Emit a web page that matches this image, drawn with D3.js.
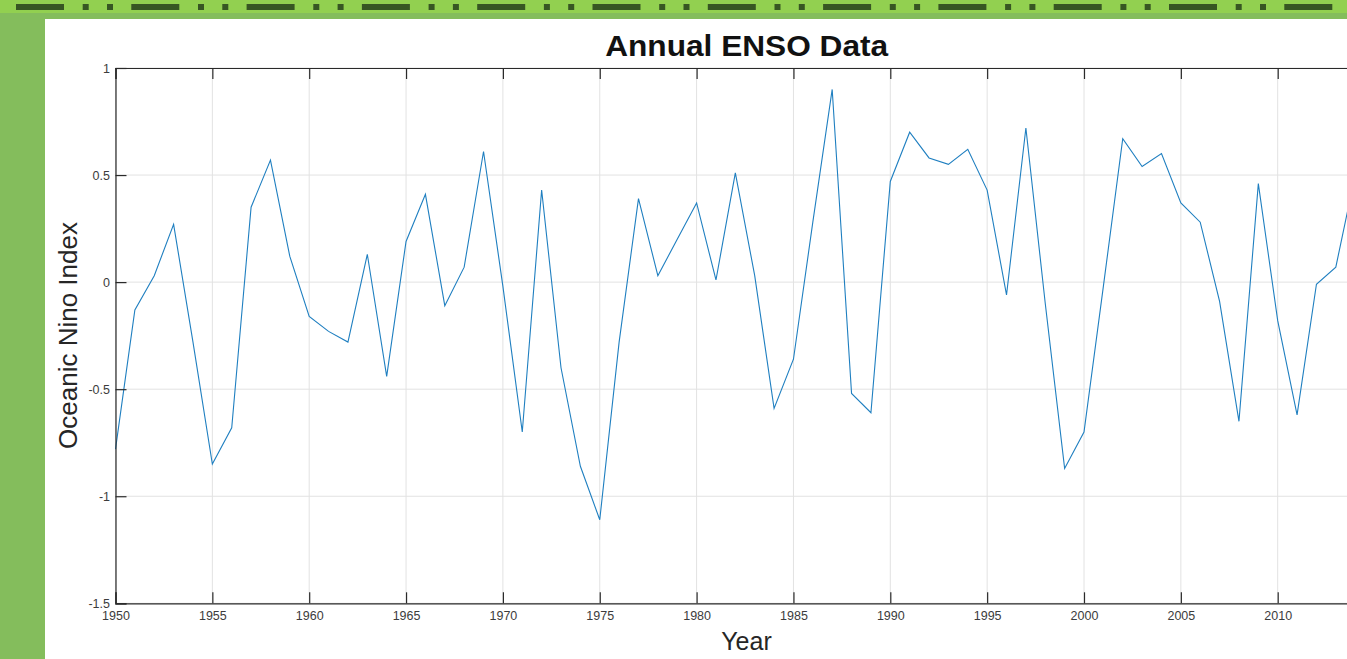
<!DOCTYPE html>
<html>
<head>
<meta charset="utf-8">
<script src="https://cdn.jsdelivr.net/npm/d3@7"></script>
<style>
  html, body { margin: 0; padding: 0; background: #ffffff; overflow: hidden; }
  svg { display: block; }
  text { font-family: "Liberation Sans", Arial, Helvetica, sans-serif; }
</style>
</head>
<body>
<svg id="chart" width="1347" height="659"></svg>
<script>
// ---- data ----
const years = [1950,1951,1952,1953,1954,1955,1956,1957,1958,1959,
               1960,1961,1962,1963,1964,1965,1966,1967,1968,1969,
               1970,1971,1972,1973,1974,1975,1976,1977,1978,1979,
               1980,1981,1982,1983,1984,1985,1986,1987,1988,1989,
               1990,1991,1992,1993,1994,1995,1996,1997,1998,1999,
               2000,2001,2002,2003,2004,2005,2006,2007,2008,2009,
               2010,2011,2012,2013,2014];
const oni = [-0.78,-0.13,0.03,0.27,-0.28,-0.85,-0.68,0.35,0.57,0.12,
             -0.16,-0.23,-0.28,0.13,-0.44,0.19,0.41,-0.11,0.07,0.61,
             -0.02,-0.70,0.43,-0.40,-0.86,-1.11,-0.28,0.39,0.03,0.20,
             0.37,0.01,0.51,0.03,-0.59,-0.36,0.28,0.90,-0.52,-0.61,
             0.47,0.70,0.58,0.55,0.62,0.43,-0.06,0.72,-0.10,-0.87,
             -0.70,-0.02,0.67,0.54,0.60,0.37,0.28,-0.09,-0.65,0.46,
             -0.18,-0.62,-0.01,0.07,0.50];
const xTicks = [1950,1955,1960,1965,1970,1975,1980,1985,1990,1995,2000,2005,2010,2015];
const xTickLabels = ["1950","1955","1960","1965","1970","1975","1980","1985","1990","1995","2000","2005","2010",""];
const yTicks = [-1.5,-1,-0.5,0,0.5,1];
const yTickLabels = ["-1.5","-1","-0.5","0","0.5","1"];
const xDomain = [1950, 2015];
const yDomain = [-1.5, 1];
const titleText = "Annual ENSO Data";
const xLabelText = "Year";
const yLabelText = "Oceanic Nino Index";

// ---- layout ----
const svg = d3.select("#chart");
const W = 1347, H = 659;
const plot = { left: 115.5, top: 68, bottom: 603.3, right: 115.5 + 65 * 19.37 };

// background decoration
svg.append("rect").attr("x",0).attr("y",0).attr("width",W).attr("height",H).attr("fill","#84bd5c");
svg.append("rect").attr("x",0).attr("y",0).attr("width",W).attr("height",13).attr("fill","#92d050");
svg.append("line").attr("x1",16).attr("x2",W).attr("y1",7).attr("y2",7)
  .attr("stroke","#375623").attr("stroke-width",6)
  .attr("stroke-dasharray","48,18.7,6,18.3,6,18.3");
svg.append("rect").attr("x",45).attr("y",19).attr("width",W-45).attr("height",H-19).attr("fill","#ffffff");

const x = d3.scaleLinear().domain(xDomain).range([plot.left, plot.right]);
const y = d3.scaleLinear().domain(yDomain).range([plot.bottom, plot.top]);

// grid
const grid = svg.append("g");
grid.selectAll(".gx").data(xTicks).join("line")
  .attr("x1", d => x(d)).attr("x2", d => x(d))
  .attr("y1", plot.top).attr("y2", plot.bottom)
  .attr("stroke", "#e2e2e2").attr("stroke-width", 1);
grid.selectAll(".gy").data(yTicks).join("line")
  .attr("x1", plot.left).attr("x2", plot.right)
  .attr("y1", d => y(d)).attr("y2", d => y(d))
  .attr("stroke", "#e2e2e2").attr("stroke-width", 1);

// data line
const line = d3.line().x((d,i) => x(years[i])).y(d => y(d));
svg.append("path").datum(oni)
  .attr("d", line)
  .attr("fill", "none")
  .attr("stroke", "#1f7fc0")
  .attr("stroke-width", 1.1);

// axes
const axisColor = "#2a2a2a";
const tickFmtY = d => yTickLabels[yTicks.indexOf(d)];
const tickFmtX = d => xTickLabels[xTicks.indexOf(d)];

const xAxisB = svg.append("g").attr("transform", `translate(0,${plot.bottom})`)
  .call(d3.axisBottom(x).tickValues(xTicks).tickSize(-11).tickPadding(8).tickFormat(tickFmtX));
const xAxisT = svg.append("g").attr("transform", `translate(0,${plot.top})`)
  .call(d3.axisTop(x).tickValues(xTicks).tickSize(-11).tickFormat(""));
const yAxisL = svg.append("g").attr("transform", `translate(${plot.left},0)`)
  .call(d3.axisLeft(y).tickValues(yTicks).tickSize(-11).tickPadding(5.5).tickFormat(tickFmtY));
const yAxisR = svg.append("g").attr("transform", `translate(${plot.right},0)`)
  .call(d3.axisRight(y).tickValues(yTicks).tickSize(-11).tickFormat(""));

[xAxisB, xAxisT, yAxisL, yAxisR].forEach(g => {
  g.selectAll(".domain").attr("stroke", axisColor).attr("stroke-width", 1.2);
  g.selectAll(".tick line").attr("stroke", axisColor).attr("stroke-width", 1.2);
  g.selectAll(".tick text").attr("fill", "#3c3c3c")
    .style("font-family", "'Liberation Sans', Arial, sans-serif")
    .style("font-size", "12.5px");
  // drop empty labels (ticks whose label lies outside the visible window)
  g.selectAll(".tick text").filter(function() { return this.textContent === ""; }).remove();
});

// title & labels
svg.append("text").attr("x", 746.7).attr("y", 55.7)
  .attr("text-anchor", "middle")
  .attr("textLength", 283).attr("lengthAdjust", "spacingAndGlyphs")
  .style("font-size", "29px").style("font-weight", "bold").attr("fill", "#111")
  .text(titleText);

svg.append("text").attr("x", 746.5).attr("y", 650)
  .attr("text-anchor", "middle")
  .style("font-size", "25px").attr("fill", "#262626")
  .text(xLabelText);

svg.append("text")
  .attr("transform", "translate(77,335.5) rotate(-90)")
  .attr("text-anchor", "middle")
  .style("font-size", "26px").attr("fill", "#262626")
  .text(yLabelText);
</script>
</body>
</html>
